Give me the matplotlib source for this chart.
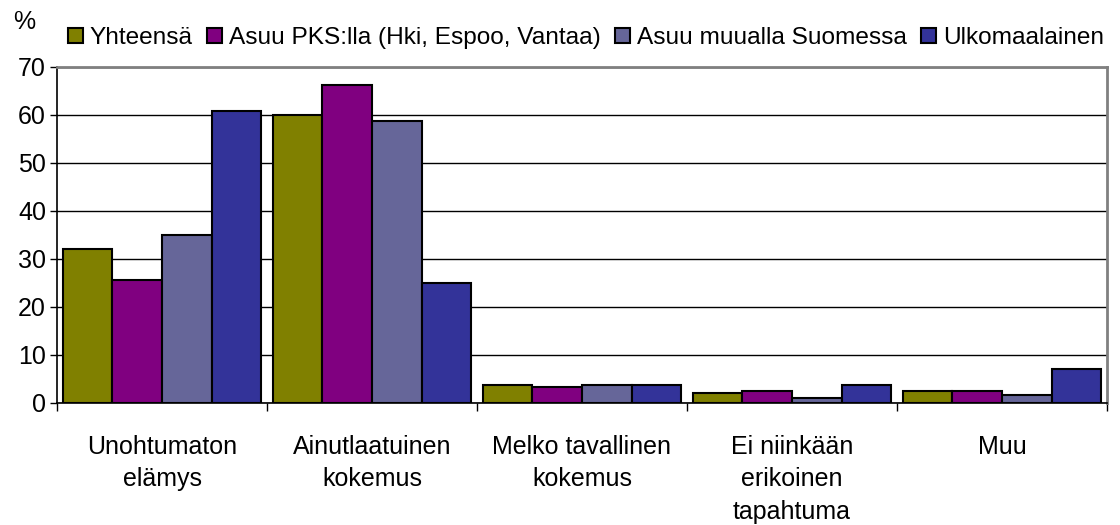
import numpy as np
import matplotlib
matplotlib.use("Agg")
import matplotlib.pyplot as plt

plt.rcParams['font.family'] = ['Liberation Sans', 'DejaVu Sans']

categories = ["Unohtumaton\nelämys", "Ainutlaatuinen\nkokemus",
              "Melko tavallinen\nkokemus", "Ei niinkään\nerikoinen\ntapahtuma",
              "Muu"]
series = ["Yhteensä", "Asuu PKS:lla (Hki, Espoo, Vantaa)",
          "Asuu muualla Suomessa", "Ulkomaalainen"]
yhteensa = [32.0, 60.0, 3.7, 2.0, 2.4]
pks = [25.6, 66.2, 3.3, 2.4, 2.4]
muualla = [35.0, 58.7, 3.7, 1.1, 1.6]
ulkomaalainen = [60.8, 25.1, 3.7, 3.7, 7.0]
colors = ["#808000", "#800080", "#666699", "#333399"]

values = [yhteensa, pks, muualla, ulkomaalainen]

fig = plt.figure(figsize=(11.2, 5.25), dpi=100)
ax = fig.add_axes((57/1120, 1-403/525, 1050/1120, 336/525))

x = np.arange(len(categories))
width = 0.236
for i, (name, vals) in enumerate(zip(series, values)):
    ax.bar(x + (i - 1.5)*width, vals, width, color=colors[i],
           edgecolor="black", linewidth=1.5, label=name, zorder=3)

ax.set_xlim(-0.5, len(categories) - 0.5)
ax.set_ylim(0, 70)
ax.set_yticks(range(0, 71, 10))
ax.yaxis.grid(True, color="black", linewidth=1, zorder=0)

# group boundaries as major ticks, labels on minor ticks at centers
ax.set_xticks(np.arange(-0.5, len(categories)))
ax.set_xticklabels([])
ax.set_xticks(x, minor=True)
ax.set_xticklabels(categories, minor=True, fontsize=18, linespacing=1.45,
                   va="top")
ax.tick_params(axis="x", which="minor", length=0, pad=23)
ax.tick_params(axis="x", which="major", length=6, width=1, direction="out")
ax.tick_params(axis="y", length=5, width=1, labelsize=18, pad=3)

for s in ["top", "right"]:
    ax.spines[s].set_color("#808080")
    ax.spines[s].set_linewidth(2)
ax.spines["left"].set_linewidth(1.2)
ax.spines["bottom"].set_linewidth(1.2)

fig.text(13/1120, 1-22/525, "%", fontsize=18, va="center", ha="left")

fig.legend(loc="upper left", bbox_to_anchor=(68/1120, 1-27/525), ncol=4,
           frameon=False, fontsize=17.6, handlelength=0.6, handleheight=0.6,
           handletextpad=0.28, columnspacing=0.6, borderaxespad=0,
           borderpad=0)

plt.savefig("out.png", dpi=100)
